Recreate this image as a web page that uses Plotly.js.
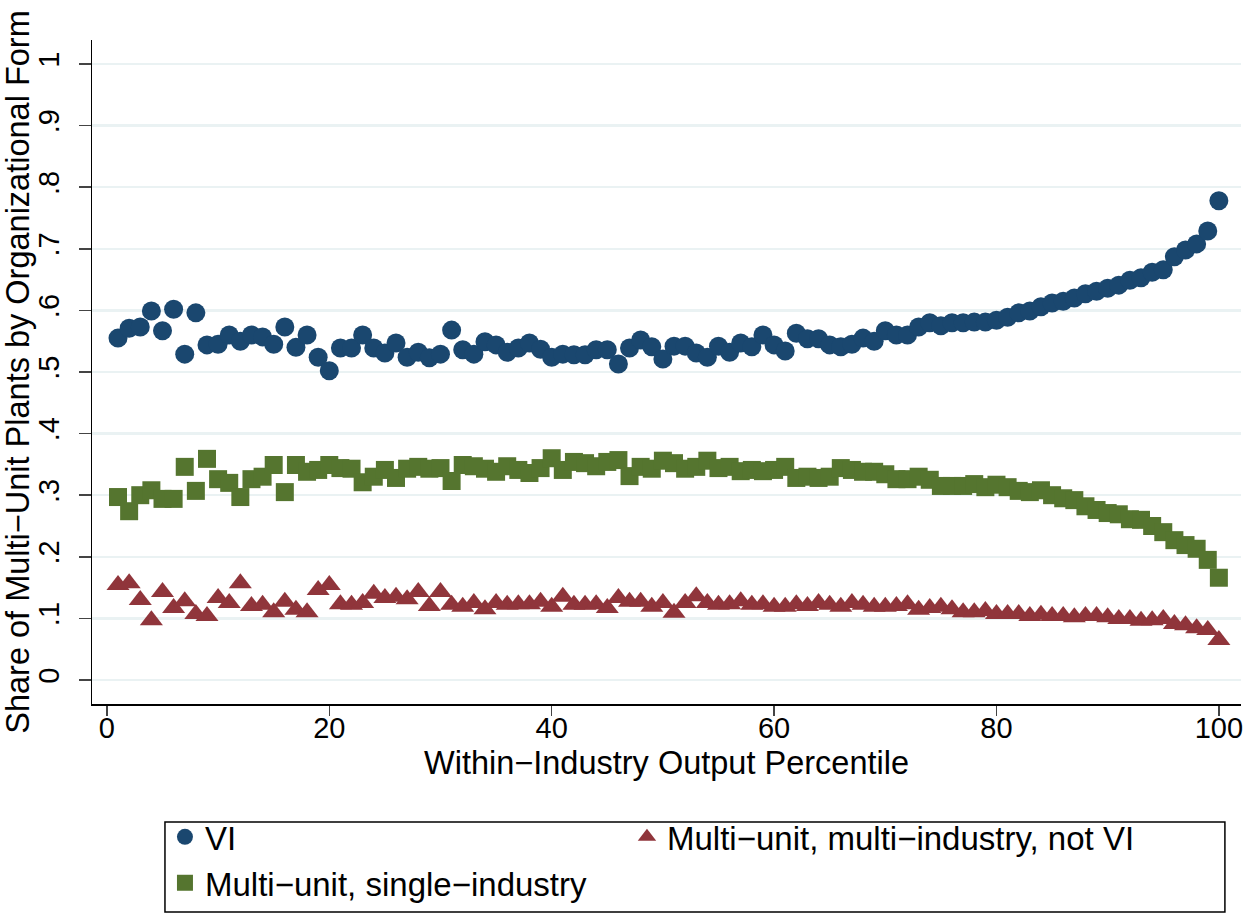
<!DOCTYPE html>
<html>
<head>
<meta charset="utf-8">
<script src="https://cdn.plot.ly/plotly-3.0.1.min.js"></script>
<style>html,body{margin:0;padding:0;background:#fff;}#chart{width:1248px;height:916px;}</style>
</head>
<body>
<div id="chart"></div>
<script>
const percentile = Array.from({length: 100}, (_, i) => i + 1);

const viShare = [
  0.555,0.571,0.573,0.599,0.567,0.602,0.529,0.596,0.544,0.545,
  0.560,0.550,0.560,0.557,0.545,0.573,0.540,0.560,0.524,0.502,
  0.539,0.539,0.560,0.539,0.531,0.547,0.524,0.532,0.523,0.529,
  0.568,0.536,0.529,0.549,0.544,0.532,0.539,0.547,0.537,0.524,
  0.529,0.528,0.528,0.536,0.536,0.513,0.539,0.552,0.541,0.521,
  0.542,0.542,0.531,0.524,0.542,0.532,0.547,0.541,0.560,0.544,
  0.534,0.563,0.554,0.554,0.544,0.541,0.545,0.555,0.550,0.567,
  0.560,0.560,0.573,0.580,0.575,0.580,0.580,0.581,0.581,0.584,
  0.589,0.596,0.599,0.606,0.612,0.615,0.620,0.627,0.631,0.636,
  0.641,0.649,0.653,0.662,0.666,0.687,0.698,0.708,0.729,0.778
];

const singleIndustryShare = [
  0.297,0.274,0.300,0.308,0.294,0.294,0.346,0.307,0.359,0.326,
  0.320,0.297,0.326,0.330,0.349,0.305,0.349,0.338,0.341,0.349,
  0.344,0.343,0.321,0.330,0.341,0.328,0.343,0.346,0.343,0.344,
  0.323,0.349,0.347,0.343,0.338,0.347,0.341,0.336,0.344,0.360,
  0.341,0.354,0.352,0.347,0.354,0.357,0.331,0.346,0.343,0.356,
  0.352,0.343,0.346,0.356,0.344,0.346,0.339,0.341,0.339,0.341,
  0.346,0.328,0.330,0.328,0.330,0.344,0.341,0.338,0.338,0.334,
  0.326,0.326,0.330,0.325,0.315,0.315,0.315,0.318,0.313,0.317,
  0.313,0.307,0.305,0.308,0.300,0.295,0.292,0.282,0.276,0.271,
  0.269,0.261,0.260,0.250,0.240,0.227,0.219,0.213,0.195,0.166
];

const multiIndustryShare = [
  0.154,0.157,0.130,0.097,0.143,0.117,0.128,0.107,0.104,0.133,
  0.125,0.157,0.120,0.122,0.110,0.127,0.114,0.110,0.146,0.154,
  0.123,0.122,0.125,0.140,0.133,0.135,0.131,0.143,0.120,0.143,
  0.122,0.119,0.125,0.115,0.125,0.122,0.123,0.123,0.127,0.119,
  0.135,0.122,0.122,0.123,0.117,0.133,0.127,0.127,0.119,0.125,
  0.109,0.125,0.136,0.125,0.122,0.123,0.128,0.122,0.123,0.119,
  0.119,0.123,0.120,0.125,0.122,0.119,0.125,0.122,0.119,0.119,
  0.120,0.123,0.114,0.117,0.119,0.115,0.110,0.110,0.112,0.107,
  0.107,0.107,0.104,0.106,0.104,0.104,0.102,0.104,0.104,0.102,
  0.099,0.099,0.096,0.097,0.099,0.091,0.089,0.084,0.081,0.065
];

const yTickVals = [0,0.1,0.2,0.3,0.4,0.5,0.6,0.7,0.8,0.9,1];
const yTickText = ['0','.1','.2','.3','.4','.5','.6','.7','.8','.9','1'];
const xTickVals = [0,20,40,60,80,100];

const FONT = 'Liberation Sans, Arial, Helvetica, sans-serif';

const traces = [
  {x: percentile, y: viShare, name: 'VI', type: 'scatter', mode: 'markers',
   marker: {symbol: 'circle', size: 19, color: '#1a476f'}, legend: 'legend'},
  {x: percentile, y: singleIndustryShare, name: 'Multi\u2212unit, single\u2212industry', type: 'scatter', mode: 'markers',
   marker: {symbol: 'square', size: 18, color: '#55752f'}, legend: 'legend'},
  {x: percentile, y: multiIndustryShare, name: 'Multi\u2212unit, multi\u2212industry, not VI', type: 'scatter', mode: 'markers',
   marker: {symbol: 'triangle-up', size: 20, color: '#90353b'}, legend: 'legend2'}
];

const legendCommon = {
  orientation: 'v', xanchor: 'left', yanchor: 'top',
  borderwidth: 0, bgcolor: 'rgba(0,0,0,0)',
  font: {family: FONT, size: 33, color: '#000'},
  traceorder: 'normal'
};

const layout = {
  width: 1248, height: 916,
  paper_bgcolor: '#ffffff', plot_bgcolor: '#ffffff',
  margin: {l: 92, r: 7, t: 40, b: 212, autoexpand: false},
  font: {family: FONT, size: 29, color: '#000'},
  showlegend: true,
  xaxis: {
    range: [-1.34, 101.99], tickvals: xTickVals, ticks: 'outside', ticklen: 10, tickwidth: 1.5,
    ticklabelstandoff: -12,
    showline: true, linecolor: '#000', linewidth: 1.5, showgrid: false, zeroline: false,
    automargin: false,
    tickfont: {family: FONT, size: 29, color: '#000'},
    title: {text: 'Within\u2212Industry Output Percentile', font: {family: FONT, size: 32.5, color: '#000'}, standoff: 8}
  },
  yaxis: {
    range: [-0.039, 1.039], tickvals: yTickVals, ticktext: yTickText, tickangle: -90,
    ticks: 'outside', ticklen: 12, tickwidth: 1.5,
    ticklabelstandoff: 8,
    showline: true, linecolor: '#000', linewidth: 1.5,
    showgrid: true, gridcolor: '#eaf2f3', gridwidth: 2.5, zeroline: false,
    automargin: false,
    tickfont: {family: FONT, size: 29, color: '#000'},
    title: {text: 'Share of Multi\u2212Unit Plants by Organizational Form', font: {family: FONT, size: 32.5, color: '#000'}, standoff: 6}
  },
  legend: Object.assign({}, legendCommon, {x: 0.0635, y: -0.158}),
  legend2: Object.assign({}, legendCommon, {x: 0.4656, y: -0.158}),
  shapes: [
    {type: 'rect', xref: 'paper', yref: 'paper', x0: 0.0635, x1: 0.986, y0: -0.1777, y1: -0.3133,
     line: {color: '#000', width: 1.5}, fillcolor: 'rgba(0,0,0,0)', layer: 'above'}
  ]
};

Plotly.newPlot('chart', traces, layout, {staticPlot: true, displayModeBar: false});
</script>
</body>
</html>
